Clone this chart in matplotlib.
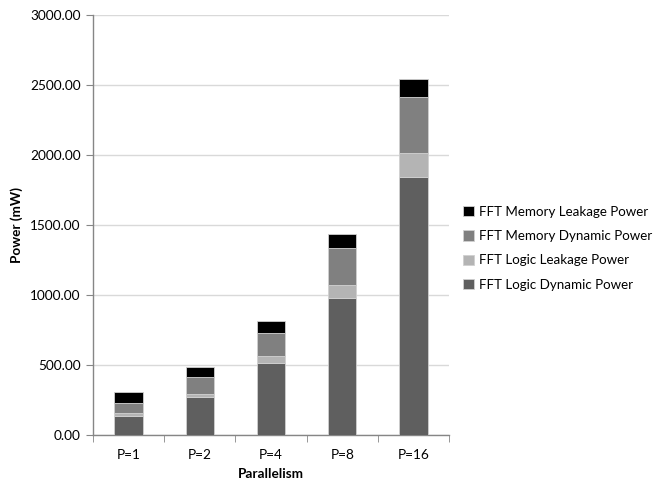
import matplotlib
matplotlib.use("Agg")
import matplotlib.pyplot as plt
import numpy as np

categories = ["P=1", "P=2", "P=4", "P=8", "P=16"]
logic_dynamic = [138, 271, 516, 981, 1841]
logic_leakage = [21, 22, 50, 90, 175]
memory_dynamic = [72, 119, 160, 262, 400]
memory_leakage = [76, 72, 88, 101, 127]

series = [
    ("FFT Logic Dynamic Power", logic_dynamic, "#5f5f5f"),
    ("FFT Logic Leakage Power", logic_leakage, "#b4b4b4"),
    ("FFT Memory Dynamic Power", memory_dynamic, "#808080"),
    ("FFT Memory Leakage Power", memory_leakage, "#000000"),
]

plt.rcParams["font.family"] = ["Lato", "DejaVu Sans"]

fig = plt.figure(figsize=(6.57, 4.83), dpi=100)
ax = fig.add_axes([0.1416, 0.0994, 0.5418, 0.8696])

x = np.arange(len(categories))
bottom = np.zeros(len(categories))
handles = []
for name, vals, color in series:
    vals = np.array(vals, dtype=float)
    b = ax.bar(x, vals, width=0.4, bottom=bottom, color=color,
               edgecolor="#d0d0d0", linewidth=0.6, label=name, zorder=3)
    handles.append(b)
    bottom += vals

ax.set_xlim(-0.5, len(categories) - 0.5)
ax.set_ylim(0, 3000)
ax.set_yticks(np.arange(0, 3001, 500))
ax.set_yticklabels([f"{v:.2f}" for v in np.arange(0, 3001, 500)])
ax.yaxis.grid(True, color="#d9d9d9", linewidth=1.0, zorder=0)
ax.set_axisbelow(True)

ax.set_xticks(x)
ax.set_xticklabels(categories)
ax.tick_params(axis="x", length=0, pad=10, labelsize=9.8, colors="#000000")
ax.set_xticks(np.arange(-0.5, len(categories)), minor=True)
ax.tick_params(axis="x", which="minor", length=5, color="#868686", direction="out")
ax.tick_params(axis="y", length=5, color="#868686", labelsize=9.8, pad=4)

for s in ["top", "right"]:
    ax.spines[s].set_visible(False)
for s in ["left", "bottom"]:
    ax.spines[s].set_color("#868686")
    ax.spines[s].set_linewidth(1.0)

ax.set_ylabel("Power (mW)", fontsize=9.8, fontweight="bold", labelpad=5)
ax.set_xlabel("Parallelism", fontsize=9.8, fontweight="bold", labelpad=5)

leg = fig.legend(handles[::-1], [s[0] for s in series][::-1],
                 loc="center left", bbox_to_anchor=(0.687, 0.486),
                 frameon=False, fontsize=9.6, handlelength=0.8,
                 handleheight=0.8, handletextpad=0.4, labelspacing=0.93)

fig.savefig("out.png", dpi=100)
